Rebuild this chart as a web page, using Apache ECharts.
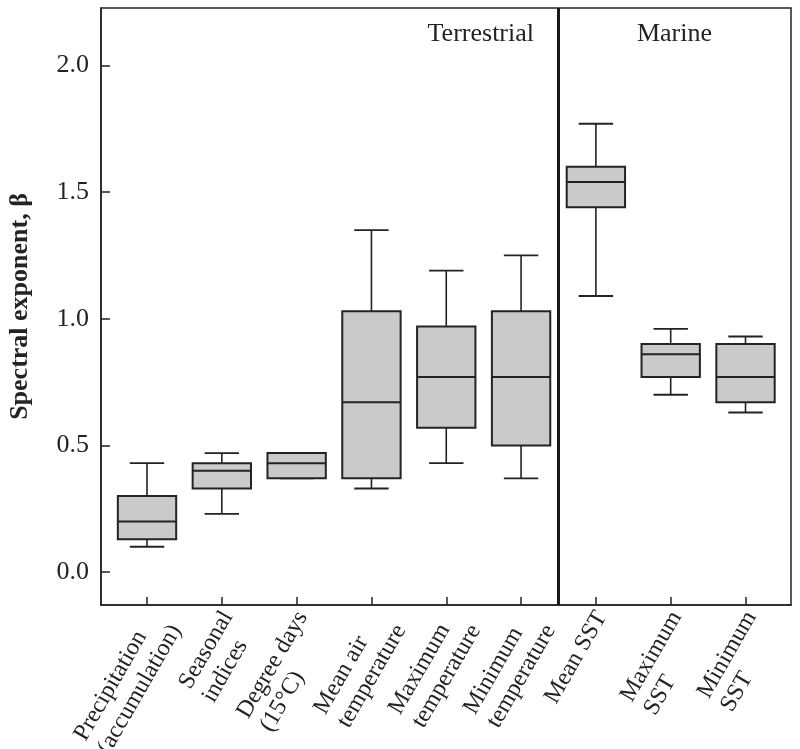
<!DOCTYPE html>
<html>
<head>
<meta charset="utf-8">
<script src="https://cdn.jsdelivr.net/npm/echarts@6/dist/echarts.min.js"></script>
<style>
  html, body { margin: 0; padding: 0; background: #fff; }
  #chart { width: 800px; height: 749px; }
</style>
</head>
<body>
<div id="chart"></div>
<script>
// ---- data ----
const categories = [
  'Precipitation\n(accumulation)',
  'Seasonal\nindices',
  'Degree days\n(15°C)',
  'Mean air\ntemperature',
  'Maximum\ntemperature',
  'Minimum\ntemperature',
  'Mean SST',
  'Maximum\nSST',
  'Minimum\nSST'
];
const minVals    = [0.10, 0.23, 0.37, 0.33, 0.43, 0.37, 1.09, 0.70, 0.63];
const q1Vals     = [0.13, 0.33, 0.37, 0.37, 0.57, 0.50, 1.44, 0.77, 0.67];
const medianVals = [0.20, 0.40, 0.43, 0.67, 0.77, 0.77, 1.54, 0.86, 0.77];
const q3Vals     = [0.30, 0.43, 0.47, 1.03, 0.97, 1.03, 1.60, 0.90, 0.90];
const maxVals    = [0.43, 0.47, 0.47, 1.35, 1.19, 1.25, 1.77, 0.96, 0.93];
const yTickValues = [0, 0.5, 1.0, 1.5, 2.0];
const groupLabels = ['Terrestrial', 'Marine'];
const groupBoundary = 5.5; // between "Minimum temperature" and "Mean SST"
const yTitle = 'Spectral exponent, \u03B2';

// ---- build ----
const xTickValues = categories.map((c, i) => i);
const boxData = categories.map((c, i) => [i, minVals[i], q1Vals[i], medianVals[i], q3Vals[i], maxVals[i]]);

const FONT = '"Liberation Serif", "Times New Roman", serif';
const INK = '#232323';

const chart = echarts.init(document.getElementById('chart'), null, { renderer: 'canvas' });

function renderBox(params, api) {
  const i = api.value(0);
  const lo = api.coord([i, api.value(1)]);
  const q1 = api.coord([i, api.value(2)]);
  const md = api.coord([i, api.value(3)]);
  const q3 = api.coord([i, api.value(4)]);
  const hi = api.coord([i, api.value(5)]);
  const band = api.size([1, 0])[0];
  const bw = band * 0.78;
  const cw = band * 0.46;
  const x = lo[0];
  const seg = (x1, y1, x2, y2, w) => ({
    type: 'line',
    shape: { x1, y1, x2, y2 },
    style: { stroke: INK, lineWidth: w }
  });
  return {
    type: 'group',
    children: [
      seg(x, hi[1], x, q3[1], 1.6),
      seg(x - cw / 2, hi[1], x + cw / 2, hi[1], 1.8),
      seg(x, q1[1], x, lo[1], 1.6),
      seg(x - cw / 2, lo[1], x + cw / 2, lo[1], 1.8),
      {
        type: 'rect',
        shape: { x: x - bw / 2, y: q3[1], width: bw, height: q1[1] - q3[1] },
        style: { fill: '#c9cacb', stroke: INK, lineWidth: 2 }
      },
      seg(x - bw / 2, md[1], x + bw / 2, md[1], 2)
    ]
  };
}

const option = {
  backgroundColor: '#fff',
  animation: false,
  grid: {
    left: 101, right: 9, top: 8, bottom: 144,
    show: true, borderColor: INK, borderWidth: 1.5,
    outerBoundsMode: 'none'
  },
  xAxis: {
    type: 'value',
    min: -0.615, max: 8.608,
    splitLine: { show: false },
    axisLine: { show: true, onZero: false, lineStyle: { color: INK, width: 1.5 } },
    axisTick: { show: true, inside: true, length: 8, customValues: xTickValues, lineStyle: { color: INK, width: 1.5 } },
    axisLabel: {
      show: true,
      customValues: xTickValues,
      rotate: 60,
      align: 'right',
      verticalAlign: 'top',
      margin: -9,
      padding: [0, 12, 0, 0],
      formatter: (v) => {
        const name = categories[Math.round(v)] || '';
        return name.split('\n').map(s => '{l|' + s + '}').join('\n');
      },
      rich: {
        l: { align: 'left', fontFamily: FONT, fontSize: 24, lineHeight: 27, color: INK }
      }
    }
  },
  yAxis: {
    type: 'value',
    min: -0.13, max: 2.227,
    name: yTitle,
    nameLocation: 'middle',
    nameGap: 68,
    nameTextStyle: { fontFamily: FONT, fontSize: 26, fontWeight: 'bold', color: INK },
    splitLine: { show: false },
    axisLine: { show: true, onZero: false, lineStyle: { color: INK, width: 1.5 } },
    axisTick: { show: true, inside: true, length: 9, customValues: yTickValues, lineStyle: { color: INK, width: 1.5 } },
    axisLabel: {
      customValues: yTickValues,
      margin: 12,
      formatter: (v) => v.toFixed(1),
      fontFamily: FONT, fontSize: 26, color: INK
    }
  },
  graphic: [
    {
      type: 'text', x: 534, y: 34,
      style: { text: groupLabels[0], align: 'right', verticalAlign: 'middle', font: '26px ' + FONT, fill: INK }
    },
    {
      type: 'text', x: 674.5, y: 34,
      style: { text: groupLabels[1], align: 'center', verticalAlign: 'middle', font: '26px ' + FONT, fill: INK }
    }
  ],
  series: [
    {
      type: 'custom',
      renderItem: renderBox,
      encode: { x: 0, y: [1, 2, 3, 4, 5] },
      data: boxData,
      clip: false,
      markLine: {
        silent: true,
        symbol: ['none', 'none'],
        label: { show: false },
        lineStyle: { color: '#1a1a1a', width: 3, type: 'solid' },
        data: [{ xAxis: groupBoundary }]
      }
    }
  ]
};

chart.setOption(option);
</script>
</body>
</html>
